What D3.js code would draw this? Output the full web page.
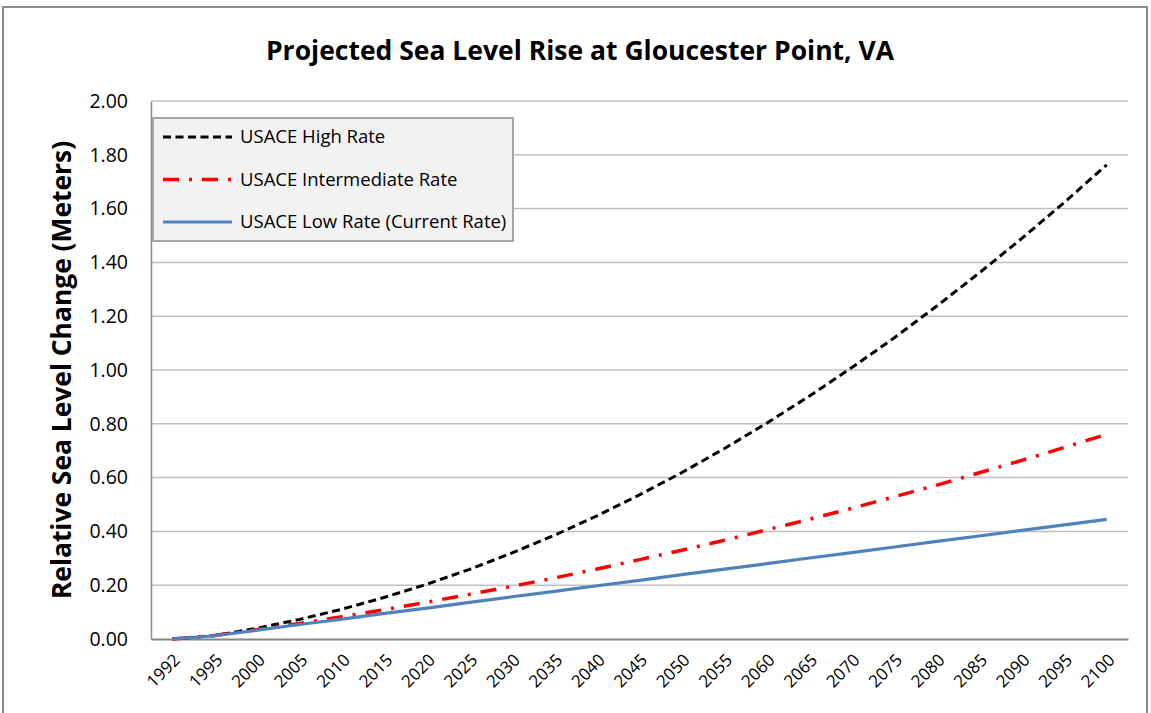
<!DOCTYPE html>
<html><head><meta charset="utf-8">
<script src="https://cdn.jsdelivr.net/npm/d3@7"></script>
<style>body{margin:0;background:#fff;} text{font-family:"Open Sans","Noto Sans",sans-serif;}</style>
</head><body>
<svg id="c" width="1151" height="713"></svg>
<script>
const years = ["1992","1995","2000","2005","2010","2015","2020","2025","2030","2035","2040","2045","2050","2055","2060","2065","2070","2075","2080","2085","2090","2095","2100"];
const highRate = [0,0.013,0.040,0.073,0.111,0.155,0.204,0.259,0.320,0.386,0.458,0.536,0.619,0.708,0.803,0.903,1.009,1.120,1.238,1.361,1.489,1.623,1.763];
const intermediateRate = [0,0.013,0.035,0.058,0.083,0.109,0.137,0.166,0.196,0.227,0.260,0.295,0.330,0.367,0.406,0.445,0.486,0.529,0.572,0.618,0.664,0.712,0.761];
const lowRate = [0,0.012,0.033,0.054,0.074,0.095,0.115,0.136,0.157,0.177,0.198,0.218,0.239,0.260,0.280,0.301,0.321,0.342,0.363,0.383,0.404,0.424,0.445];
const yTicks = [0,0.2,0.4,0.6,0.8,1.0,1.2,1.4,1.6,1.8,2.0];
const seriesNames = ["USACE High Rate","USACE Intermediate Rate","USACE Low Rate (Current Rate)"];

const svg = d3.select("#c");
const L = 151, R = 1128, T = 101, B = 639;
const x = d3.scaleBand().domain(years).range([L, R]);
const y = d3.scaleLinear().domain([0, 2]).range([B, T]);

// outer border
svg.append("rect").attr("x",3).attr("y",7).attr("width",1144).attr("height",720)
  .attr("fill","#fff").attr("stroke","#8c8c8c").attr("stroke-width",2);

// gridlines
svg.append("g").selectAll("line").data(yTicks.filter(d=>d>0)).join("line")
  .attr("x1",L).attr("x2",R).attr("y1",d=>y(d)).attr("y2",d=>y(d))
  .attr("stroke","#c0c0c0").attr("stroke-width",1.5);

// y axis
const ya = svg.append("g").attr("transform",`translate(${L},0)`)
  .call(d3.axisLeft(y).tickValues(yTicks).tickFormat(d3.format(".2f")).tickSize(0).tickPadding(23));
ya.select(".domain").attr("stroke","#8c8c8c").attr("stroke-width",1.5);
ya.selectAll("text").attr("font-size",19.5).attr("fill","#000").style("font-family",'"Open Sans",sans-serif');

// x axis
const xa = svg.append("g").attr("transform",`translate(0,${B})`)
  .call(d3.axisBottom(x).tickSize(0).tickPadding(0));
xa.select(".domain").attr("stroke","#868686").attr("stroke-width",2);
xa.selectAll("text").attr("font-size",17).attr("fill","#000")
  .attr("text-anchor","end").attr("dy",0).attr("y",0)
  .attr("transform","translate(9,22) rotate(-45)")
  .style("font-family",'"Open Sans",sans-serif');

const line = d3.line().x((d,i)=>x(years[i])+x.bandwidth()/2).y(d=>y(d));
const styles = [
  {data: highRate, color:"#000000", dash:"8,4.5", w:3},
  {data: intermediateRate, color:"#ff0000", dash:"16,10,3,10", w:3.5},
  {data: lowRate, color:"#4f81bd", dash:null, w:3.2}
];
styles.forEach(s=>{
  svg.append("path").datum(s.data).attr("d",line).attr("fill","none")
    .attr("stroke",s.color).attr("stroke-width",s.w)
    .attr("stroke-dasharray",s.dash).attr("stroke-linejoin","round");
});

// title
svg.append("text").attr("x",580).attr("y",60).attr("text-anchor","middle")
  .attr("font-size",26.5).attr("font-weight","bold").text("Projected Sea Level Rise at Gloucester Point, VA");

// y title
svg.append("text").attr("transform","translate(71,370) rotate(-90)").attr("text-anchor","middle")
  .attr("font-size",26.4).attr("font-weight","bold").text("Relative Sea Level Change (Meters)");

// legend
const lg = svg.append("g");
lg.append("rect").attr("x",153).attr("y",118).attr("width",360).attr("height",123)
  .attr("fill","#f2f2f2").attr("stroke","#a6a6a6").attr("stroke-width",2);
styles.forEach((s,i)=>{
  const yy = 137 + i*42.5;
  lg.append("line").attr("x1",163).attr("x2",232).attr("y1",yy).attr("y2",yy)
    .attr("stroke",s.color).attr("stroke-width",s.w).attr("stroke-dasharray",s.dash);
  lg.append("text").attr("x",240).attr("y",yy).attr("dy","0.35em").attr("font-size",18.5)
    .text(seriesNames[i]);
});
</script>
</body></html>
